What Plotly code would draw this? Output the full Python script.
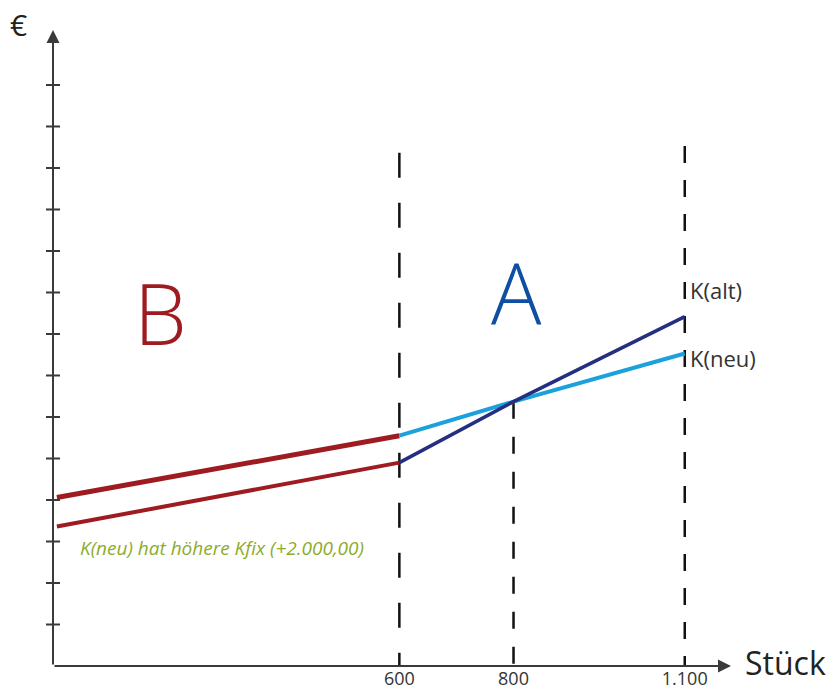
import plotly.graph_objects as go

# ---- data (schematic cost comparison) ----
stueck = [0, 600, 800, 1100]                 # quantity
k_neu = [4060, 5550, 6370, 7530]             # K(neu) in €
k_alt = [3360, 4900, 6370, 8420]             # K(alt) in €
x_tick_vals = [600, 800, 1100]
x_tick_text = ["600", "800", "1.100"]
y_tick_vals = [1000 * i for i in range(1, 15)]
dash_x = [600, 800, 1100]
dash_top = [12370, 6370, 12530]

X_MIN, X_MAX = -6.8, 1181
Y_MIN, Y_MAX = 0, 15325

RED = "#9e1b22"
LBLUE = "#1ba1dc"
NAVY = "#252f80"
AXC = "#3a3a3a"
FONT = "Open Sans"

fig = go.Figure()

# dashed vertical guide lines
dash_styles = ["25px,25px", "17px,18px", "17px,17px"]
for xv, top, ds in zip(dash_x, dash_top, dash_styles):
    fig.add_trace(go.Scatter(x=[xv, xv], y=[top, 0], mode="lines",
                             line=dict(color="#111111", width=2.5, dash=ds),
                             hoverinfo="skip", showlegend=False))

# segment 0-600 (red), 600-1100 (blue shades)
fig.add_trace(go.Scatter(x=stueck[:2], y=k_alt[:2], mode="lines",
                         line=dict(color=RED, width=4), showlegend=False))
fig.add_trace(go.Scatter(x=stueck[:2], y=k_neu[:2], mode="lines",
                         line=dict(color=RED, width=5), showlegend=False))
fig.add_trace(go.Scatter(x=stueck[1:], y=k_neu[1:], mode="lines",
                         line=dict(color=LBLUE, width=4), showlegend=False))
fig.add_trace(go.Scatter(x=stueck[1:], y=k_alt[1:], mode="lines",
                         line=dict(color=NAVY, width=3.5), showlegend=False))

# y-axis tick marks crossing the axis
fig.add_trace(go.Scatter(x=[X_MIN] * len(y_tick_vals), y=y_tick_vals, mode="markers",
                         marker=dict(symbol="line-ew", size=10,
                                     line=dict(color=AXC, width=2)),
                         cliponaxis=False, hoverinfo="skip", showlegend=False))

annotations = [
    # axis arrows
    dict(x=X_MIN, y=Y_MAX, ax=X_MIN, ay=Y_MIN, xref="x", yref="y", axref="x", ayref="y",
         text="", showarrow=True, arrowhead=2, arrowsize=1.3, arrowwidth=2, arrowcolor=AXC),
    dict(x=X_MAX, y=Y_MIN, ax=X_MIN, ay=Y_MIN, xref="x", yref="y", axref="x", ayref="y",
         text="", showarrow=True, arrowhead=2, arrowsize=1.3, arrowwidth=2, arrowcolor=AXC),
    # axis titles
    dict(x=-0.0516, y=1.0094, xref="paper", yref="paper", text="€", showarrow=False,
         font=dict(family=FONT, size=30, color="#222222"), xanchor="center", yanchor="middle"),
    dict(x=1.0804, y=0.006, xref="paper", yref="paper", text="Stück", showarrow=False,
         font=dict(family=FONT, size=32, color="#222222"), xanchor="center", yanchor="middle"),
    # region labels
    dict(x=182, y=8506, xref="x", yref="y", text="B", showarrow=False,
         font=dict(family=FONT, size=84, color=RED, weight=300), xanchor="center", yanchor="middle"),
    dict(x=806, y=9036, xref="x", yref="y", text="A", showarrow=False,
         font=dict(family=FONT, size=84, color="#0f4fa3", weight=300), xanchor="center", yanchor="middle"),
    # line labels
    dict(x=1106, y=9060, xref="x", yref="y", text="K(alt)", showarrow=False,
         font=dict(family=FONT, size=22, color="#333333"), xanchor="left", yanchor="middle"),
    dict(x=1106, y=7422, xref="x", yref="y", text="K(neu)", showarrow=False,
         font=dict(family=FONT, size=22, color="#333333"), xanchor="left", yanchor="middle"),
    dict(x=37, y=2843, xref="x", yref="y", text="<i>K(neu) hat höhere Kfix (+2.000,00)</i>",
         showarrow=False, font=dict(family=FONT, size=19, color="#8bac2d"),
         xanchor="left", yanchor="middle"),
]

fig.update_layout(
    width=830, height=693,
    margin=dict(l=53, r=99, t=30, b=27),
    paper_bgcolor="white", plot_bgcolor="white",
    showlegend=False,
    annotations=annotations,
    xaxis=dict(range=[X_MIN, X_MAX], showgrid=False, zeroline=False, showline=False,
               automargin=False,
               tickmode="array", tickvals=x_tick_vals, ticktext=x_tick_text, ticks="",
               tickfont=dict(family=FONT, size=18, color="#333333")),
    yaxis=dict(range=[Y_MIN, Y_MAX], showgrid=False, zeroline=False, showline=False,
               automargin=False, showticklabels=False, ticks=""),
)

# remove the default page margin so the figure fills the window exactly
fig.write_html("out.html",
               config={"displayModeBar": False},
               post_script="document.body.style.margin='0';document.body.style.overflow='hidden';")
